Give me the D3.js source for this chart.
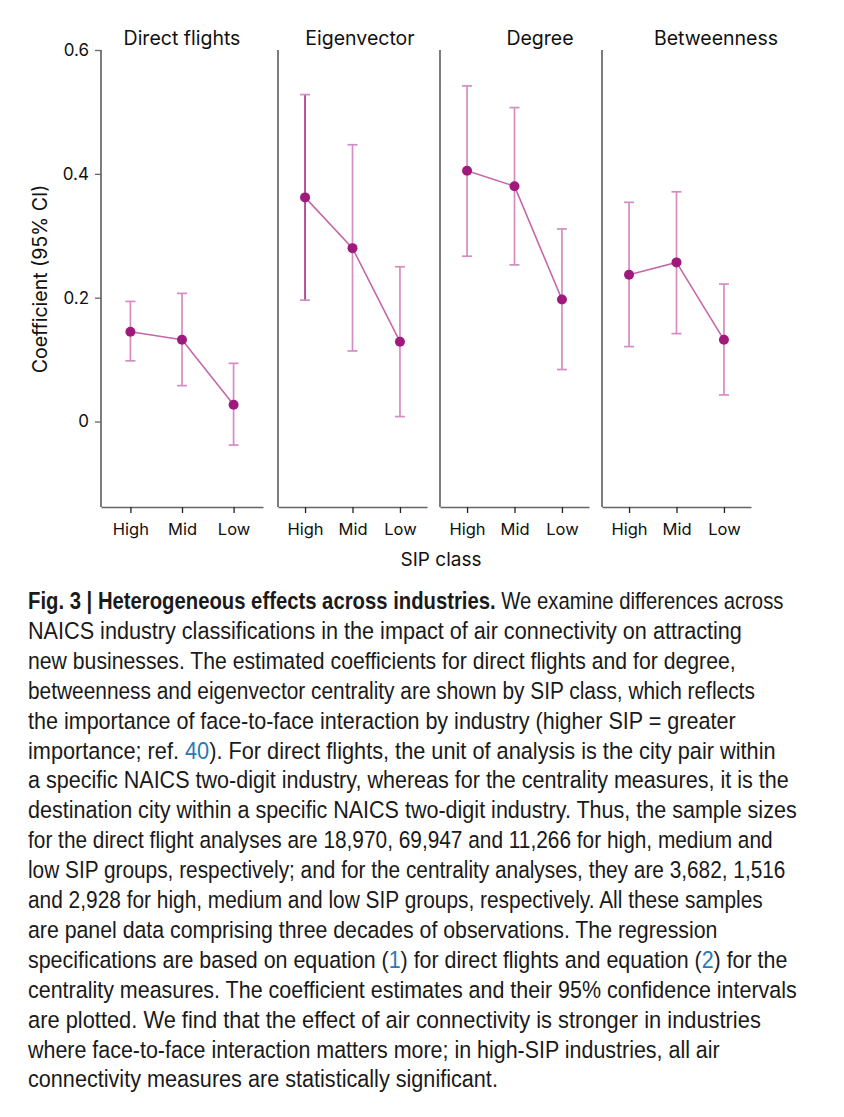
<!DOCTYPE html>
<html>
<head>
<meta charset="utf-8">
<script src="https://cdn.jsdelivr.net/npm/d3@7"></script>
<style>
  body { margin: 0; background: #fff; }
  svg { display: block; }
</style>
</head>
<body>
<svg id="chart" width="844" height="1117"></svg>
<script>
// data
const panels = ['Direct flights', 'Eigenvector', 'Degree', 'Betweenness']
const classes = ['High', 'Mid', 'Low']
const estimate = [
  [0.145, 0.132, 0.027],
  [0.362, 0.280, 0.129],
  [0.405, 0.380, 0.197],
  [0.237, 0.257, 0.132]
]
const ciLow = [
  [0.098, 0.058, -0.038],
  [0.196, 0.114, 0.008],
  [0.267, 0.253, 0.084],
  [0.121, 0.142, 0.043]
]
const ciHigh = [
  [0.194, 0.207, 0.094],
  [0.528, 0.447, 0.250],
  [0.542, 0.507, 0.311],
  [0.354, 0.371, 0.222]
]
const yTicks = [0, 0.2, 0.4, 0.6]

const caption = [
  [{t: 'Fig. 3 | Heterogeneous effects across industries.', b: 1}, {t: ' We examine differences across'}],
  [{t: 'NAICS industry classifications in the impact of air connectivity on attracting'}],
  [{t: 'new businesses. The estimated coefficients for direct flights and for degree,'}],
  [{t: 'betweenness and eigenvector centrality are shown by SIP class, which reflects'}],
  [{t: 'the importance of face-to-face interaction by industry (higher SIP = greater'}],
  [{t: 'importance; ref. '}, {t: '40', c: 1}, {t: '). For direct flights, the unit of analysis is the city pair within'}],
  [{t: 'a specific NAICS two-digit industry, whereas for the centrality measures, it is the'}],
  [{t: 'destination city within a specific NAICS two-digit industry. Thus, the sample sizes'}],
  [{t: 'for the direct flight analyses are 18,970, 69,947 and 11,266 for high, medium and'}],
  [{t: 'low SIP groups, respectively; and for the centrality analyses, they are 3,682, 1,516'}],
  [{t: 'and 2,928 for high, medium and low SIP groups, respectively. All these samples'}],
  [{t: 'are panel data comprising three decades of observations. The regression'}],
  [{t: 'specifications are based on equation ('}, {t: '1', c: 1}, {t: ') for direct flights and equation ('}, {t: '2', c: 1}, {t: ') for the'}],
  [{t: 'centrality measures. The coefficient estimates and their 95% confidence intervals'}],
  [{t: 'are plotted. We find that the effect of air connectivity is stronger in industries'}],
  [{t: 'where face-to-face interaction matters more; in high-SIP industries, all air'}],
  [{t: 'connectivity measures are statistically significant.'}]
]
// right edge of each caption line in the figure
const captionRight = [784, 742, 736, 755, 736, 776, 789, 797, 773, 786, 763, 718, 788, 797, 761, 720, 498]

const svg = d3.select('#chart')
const font = 'Inter, Roboto, sans-serif'

// panel extents
const panelX = [[101, 263], [278, 427], [440, 589], [602, 751]]
const titleX = [182, 360, 540, 716]
const plotTop = 50, plotBottom = 507

const y = d3.scaleLinear().domain([-0.138, 0.6]).range([plotBottom, plotTop])

const ptColor = '#a0197c'
const lineColor = '#c767ab'
const barColor = '#d58cc2'

panels.forEach((name, p) => {
  const x = d3.scalePoint().domain(classes).range(panelX[p]).padding(0.57).align(0.5)
  const g = svg.append('g')

  // left frame line
  g.append('line')
    .attr('x1', panelX[p][0]).attr('x2', panelX[p][0])
    .attr('y1', plotTop).attr('y2', plotBottom)
    .attr('stroke', '#666').attr('stroke-width', 1.7)

  // x axis
  const xa = g.append('g')
    .attr('transform', `translate(0,${plotBottom})`)
    .call(d3.axisBottom(x).tickSize(6).tickSizeOuter(0))
  xa.select('.domain').attr('stroke', '#666').attr('stroke-width', 1.7)
  xa.selectAll('.tick line').attr('stroke', '#222').attr('stroke-width', 1.3)
  xa.selectAll('.tick text')
    .attr('dy', 0).attr('y', 28)
    .style('font-family', font).style('font-size', '16.5px').attr('fill', '#111')

  if (p === 0) {
    const ya = g.append('g')
      .attr('transform', `translate(${panelX[0][0]},0)`)
      .call(d3.axisLeft(y).tickValues(yTicks).tickFormat(d => d === 0 ? '0' : d3.format('.1f')(d)).tickSize(6).tickPadding(6))
    ya.select('.domain').remove()
    ya.selectAll('.tick line').attr('stroke', '#666').attr('stroke-width', 1.3)
    ya.selectAll('.tick text')
      .style('font-family', font).style('font-size', '17px').attr('fill', '#111')
  }

  // title
  g.append('text')
    .attr('x', titleX[p]).attr('y', 45)
    .attr('text-anchor', 'middle')
    .style('font-family', font).style('font-size', '19.5px').attr('fill', '#111')
    .text(name)

  const rows = classes.map((c, i) => ({c, est: estimate[p][i], lo: ciLow[p][i], hi: ciHigh[p][i]}))

  // error bars
  rows.forEach((d, i) => {
    const col = (p === 1 && i === 0) ? '#b0308f' : barColor
    const cx = x(d.c)
    g.append('line').attr('x1', cx).attr('x2', cx)
      .attr('y1', y(d.lo)).attr('y2', y(d.hi))
      .attr('stroke', col).attr('stroke-width', 1.7)
    ;[d.lo, d.hi].forEach(v => {
      g.append('line').attr('x1', cx - 5).attr('x2', cx + 5)
        .attr('y1', y(v)).attr('y2', y(v))
        .attr('stroke', barColor).attr('stroke-width', 1.7)
    })
  })

  // connecting line
  g.append('path')
    .datum(rows)
    .attr('fill', 'none')
    .attr('stroke', lineColor).attr('stroke-width', 1.6)
    .attr('d', d3.line().x(d => x(d.c)).y(d => y(d.est)))

  g.selectAll('circle')
    .data(rows)
    .enter().append('circle')
    .attr('cx', d => x(d.c)).attr('cy', d => y(d.est))
    .attr('r', 5).attr('fill', ptColor)
})

// axis titles
svg.append('text')
  .attr('transform', 'translate(47,279) rotate(-90)')
  .attr('text-anchor', 'middle')
  .style('font-family', font).style('font-size', '19.5px').attr('fill', '#111')
  .text('Coefficient (95% CI)')

svg.append('text')
  .attr('x', 441).attr('y', 566)
  .attr('text-anchor', 'middle')
  .style('font-family', font).style('font-size', '19px').attr('fill', '#111')
  .text('SIP class')

// caption: each line squeezed horizontally to the width it has in the figure
const cap = svg.append('g')
caption.forEach((parts, i) => {
  const t = cap.append('text')
    .attr('x', 0).attr('y', 0)
    .style('font-family', '"Liberation Sans", Arial, sans-serif')
    .style('font-size', '23.5px').attr('fill', '#1a1a1a')
  parts.forEach(s => {
    t.append('tspan')
      .attr('font-weight', s.b ? 'bold' : null)
      .attr('fill', s.c ? '#2a78b5' : null)
      .text(s.t)
  })
  const w = t.node().getComputedTextLength()
  const sx = (captionRight[i] - 28) / w
  t.attr('transform', `translate(28,${609 + i * 29.9}) scale(${sx},1)`)
})
</script>
</body>
</html>
